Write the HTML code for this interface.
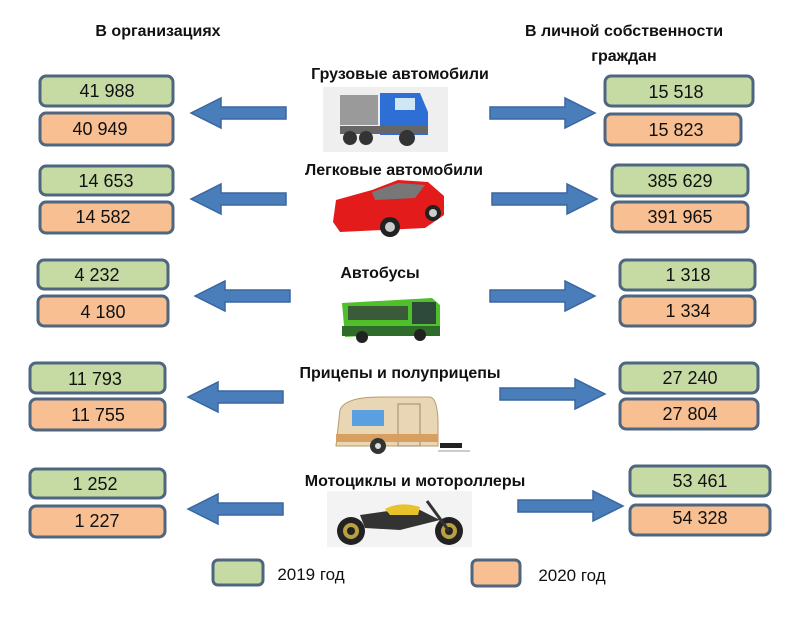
<!DOCTYPE html>
<html><head><meta charset="utf-8"><style>
body{margin:0;background:#fff;}
svg text{font-family:"Liberation Sans",sans-serif;}
</style></head><body>
<svg width="797" height="621" viewBox="0 0 797 621" xmlns="http://www.w3.org/2000/svg">
<defs>
<g id="la"><polygon points="0,0 30,-15 30,-6 95,-6 95,6 30,6 30,15" fill="#4a7ebb" stroke="#3a66a0" stroke-width="1.5"/></g>
<g id="ra"><polygon points="0,-6 75,-6 75,-15 105,0 75,15 75,6 0,6" fill="#4a7ebb" stroke="#3a66a0" stroke-width="1.5"/></g>
</defs>
<g font-size="18" text-anchor="middle" fill="#111">
<text x="158" y="36" font-size="16" font-weight="bold">В организациях</text>
<text x="624" y="36" font-size="16" font-weight="bold">В личной собственности</text>
<text x="624" y="61" font-size="16" font-weight="bold">граждан</text>
<g font-size="16" font-weight="bold">
<text x="400" y="79">Грузовые  автомобили</text>
<text x="394" y="175">Легковые автомобили</text>
<text x="380" y="278">Автобусы</text>
<text x="400" y="378">Прицепы и полуприцепы</text>
<text x="415" y="486">Мотоциклы и мотороллеры</text>
</g>
<g stroke="#4f6680" stroke-width="3">
<rect x="40" y="76" width="133" height="30" rx="6" fill="#c6dba3"/><rect x="40" y="113" width="133" height="32" rx="6" fill="#f8bf92"/>
<rect x="605" y="76" width="148" height="30" rx="6" fill="#c6dba3"/><rect x="605" y="114" width="136" height="31" rx="6" fill="#f8bf92"/>
<rect x="40" y="166" width="133" height="29" rx="6" fill="#c6dba3"/><rect x="40" y="202" width="133" height="31" rx="6" fill="#f8bf92"/>
<rect x="612" y="165" width="136" height="31" rx="6" fill="#c6dba3"/><rect x="612" y="202" width="136" height="30" rx="6" fill="#f8bf92"/>
<rect x="38" y="260" width="130" height="29" rx="6" fill="#c6dba3"/><rect x="38" y="296" width="130" height="30" rx="6" fill="#f8bf92"/>
<rect x="620" y="260" width="135" height="30" rx="6" fill="#c6dba3"/><rect x="620" y="296" width="135" height="30" rx="6" fill="#f8bf92"/>
<rect x="30" y="363" width="135" height="30" rx="6" fill="#c6dba3"/><rect x="30" y="399" width="135" height="31" rx="6" fill="#f8bf92"/>
<rect x="620" y="363" width="138" height="30" rx="6" fill="#c6dba3"/><rect x="620" y="399" width="138" height="30" rx="6" fill="#f8bf92"/>
<rect x="30" y="469" width="135" height="29" rx="6" fill="#c6dba3"/><rect x="30" y="506" width="135" height="31" rx="6" fill="#f8bf92"/>
<rect x="630" y="466" width="140" height="30" rx="6" fill="#c6dba3"/><rect x="630" y="505" width="140" height="30" rx="6" fill="#f8bf92"/>
<rect x="213" y="560" width="50" height="25" rx="5" fill="#c6dba3"/><rect x="472" y="560" width="48" height="26" rx="5" fill="#f8bf92"/>
</g>
<text x="107" y="97">41 988</text><text x="100" y="135">40 949</text>
<text x="676" y="98">15 518</text><text x="676" y="136">15 823</text>
<text x="106" y="187">14 653</text><text x="103" y="223">14 582</text>
<text x="680" y="187">385 629</text><text x="680" y="223">391 965</text>
<text x="97" y="281">4 232</text><text x="103" y="318">4 180</text>
<text x="688" y="281">1 318</text><text x="688" y="317">1 334</text>
<text x="95" y="385">11 793</text><text x="98" y="421">11 755</text>
<text x="690" y="384">27 240</text><text x="690" y="420">27 804</text>
<text x="95" y="490">1 252</text><text x="97" y="527">1 227</text>
<text x="700" y="487">53 461</text><text x="700" y="524">54 328</text>
<text x="311" y="580" font-size="17">2019 год</text>
<text x="572" y="581" font-size="17">2020 год</text>
</g>
<use href="#la" x="191" y="113"/><use href="#ra" x="490" y="113"/>
<use href="#la" x="191" y="199"/><use href="#ra" x="492" y="199"/>
<use href="#la" x="195" y="296"/><use href="#ra" x="490" y="296"/>
<use href="#la" x="188" y="397"/><use href="#ra" x="500" y="394"/>
<use href="#la" x="188" y="509"/><use href="#ra" x="518" y="506"/>
<rect x="323" y="87" width="125" height="65" fill="#efefef"/>
<rect x="340" y="95" width="38" height="30" fill="#9a9a9a"/>
<path d="M380 93 L420 93 L428 112 L428 135 L380 135 Z" fill="#2e6fd6"/>
<rect x="395" y="98" width="20" height="12" fill="#cfe6f4"/>
<rect x="340" y="126" width="88" height="8" fill="#666"/>
<circle cx="350" cy="138" r="7" fill="#333"/><circle cx="366" cy="138" r="7" fill="#333"/><circle cx="407" cy="138" r="8" fill="#333"/>
<path d="M333 222 L336 200 L372 190 L398 180 L428 182 L444 196 L444 215 L425 228 L340 232 Z" fill="#e31b1b"/>
<path d="M372 192 L398 183 L425 185 L415 198 L375 200 Z" fill="#777"/>
<circle cx="390" cy="227" r="10" fill="#222"/><circle cx="390" cy="227" r="5" fill="#ccc"/>
<circle cx="433" cy="213" r="8" fill="#222"/><circle cx="433" cy="213" r="4" fill="#ccc"/>
<path d="M342 303 L432 298 L440 305 L440 332 L345 337 Z" fill="#4fbf2a"/>
<rect x="348" y="306" width="60" height="14" fill="#3a5a3a"/>
<rect x="412" y="302" width="24" height="22" fill="#2e4a3a"/>
<rect x="342" y="326" width="98" height="10" fill="#2f6b2a"/>
<circle cx="362" cy="337" r="6" fill="#222"/><circle cx="420" cy="335" r="6" fill="#222"/>
<path d="M340 410 Q345 397 380 397 L430 397 Q437 398 438 420 L438 446 L336 446 Z" fill="#e8d6b4" stroke="#b89a6a"/>
<rect x="352" y="410" width="32" height="16" fill="#5aa0e0"/>
<rect x="398" y="404" width="22" height="42" fill="none" stroke="#9a8a70"/>
<rect x="336" y="434" width="102" height="8" fill="#d8a060"/>
<circle cx="378" cy="446" r="8" fill="#333"/><circle cx="378" cy="446" r="3" fill="#ddd"/>
<rect x="440" y="443" width="22" height="5" fill="#222"/>
<line x1="438" y1="451" x2="470" y2="451" stroke="#999"/>
<rect x="327" y="491" width="145" height="56" fill="#f3f3f3"/>
<circle cx="351" cy="531" r="14" fill="#222"/><circle cx="351" cy="531" r="8" fill="#b8a040"/><circle cx="351" cy="531" r="4" fill="#222"/>
<circle cx="449" cy="531" r="14" fill="#222"/><circle cx="449" cy="531" r="8" fill="#b8a040"/><circle cx="449" cy="531" r="4" fill="#222"/>
<path d="M360 515 L395 510 L420 510 L440 520 L400 530 L365 528 Z" fill="#333"/>
<path d="M385 509 Q400 501 420 507 L418 515 L390 515 Z" fill="#e8c22a"/>
<line x1="427" y1="501" x2="449" y2="531" stroke="#333" stroke-width="3"/>
</svg>
</body></html>
